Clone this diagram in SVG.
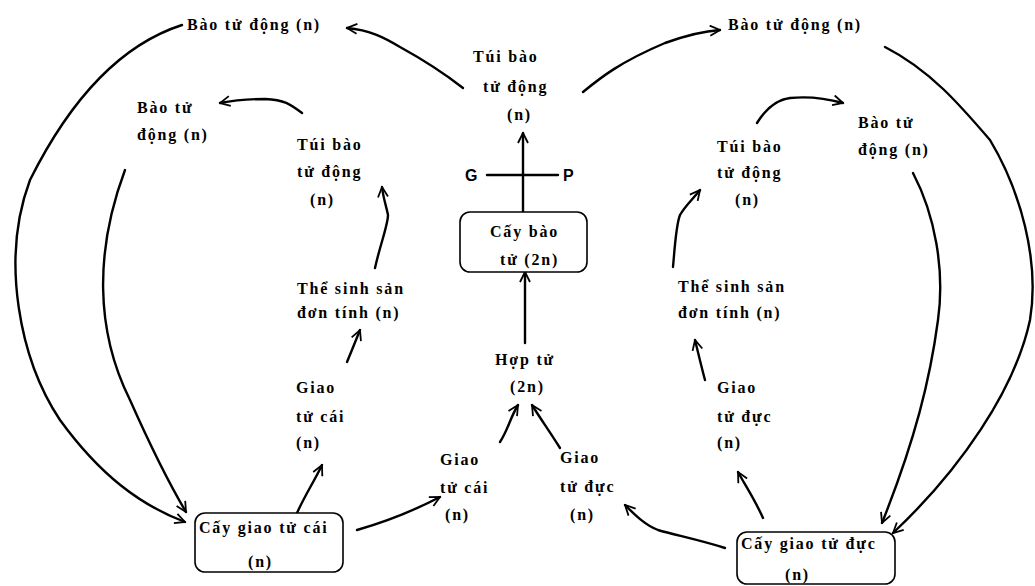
<svg xmlns="http://www.w3.org/2000/svg" width="1035" height="586" viewBox="0 0 1035 586">
<defs>
<marker id="ah" viewBox="0 0 12 12" refX="11" refY="6" markerWidth="12" markerHeight="12" markerUnits="userSpaceOnUse" orient="auto">
<path d="M1,1 L11,6 L1,11" fill="none" stroke="#000" stroke-width="1.8"/>
</marker>
<style>
.t{font-family:"Liberation Serif","DejaVu Serif",serif;font-weight:bold;font-size:16px;letter-spacing:1.8px;fill:#000}
.s{font-family:"Liberation Sans","DejaVu Sans",sans-serif;font-weight:bold;font-size:16px;fill:#000}
.c{fill:none;stroke:#000;stroke-width:2.4;stroke-linecap:round;marker-end:url(#ah)}
.p{fill:none;stroke:#000;stroke-width:2.4;stroke-linecap:round}
.b{fill:#fff;stroke:#000;stroke-width:1.6}
</style>
</defs>
<rect width="1035" height="586" fill="#fff"/>
<g id="connectors">
<path class="c" d="M463,88 C440,70 420,58 400,47 C385,38 370,30 347,28"/>
<path class="c" d="M302,113 C290,104 285,100 265,99 C250,99 235,100 220,103"/>
<path class="c" d="M182,25 C120,45 70,100 30,180 C0,260 20,360 60,420 C100,475 140,505 185,522"/>
<path class="c" d="M125,170 C95,250 95,330 130,400 C150,445 170,485 186,512"/>
<path class="c" d="M375,268 C380,245 388,225 388,215 C386,205 383,197 382,187"/>
<path class="c" d="M347,362 C352,350 356,340 360,330"/>
<path class="c" d="M297,513 C305,495 315,480 322,465"/>
<path class="c" d="M357,530 C385,522 415,510 440,497"/>
<path class="c" d="M500,442 C508,430 510,418 518,405"/>
<path class="c" d="M560,448 C550,432 540,418 532,405"/>
<path class="c" d="M525,343 L525,272"/>
<path class="c" d="M523,213 L523,133"/>
<path class="p" d="M487,175 L558,175"/>
<path class="c" d="M583,92 C600,78 620,62 665,43 C690,34 705,31 720,30"/>
<path class="c" d="M885,47 C930,70 960,105 990,140 C1020,190 1040,260 1030,320 C1015,390 960,470 893,533"/>
<path class="c" d="M757,123 C765,110 775,100 790,98 C810,96 825,98 843,103"/>
<path class="c" d="M913,173 C935,215 945,270 938,320 C930,380 915,440 882,523"/>
<path class="c" d="M673,267 C675,245 676,225 680,215 C685,206 692,200 700,190"/>
<path class="c" d="M705,380 C701,365 698,352 695,340"/>
<path class="c" d="M763,518 C755,500 745,485 738,472"/>
<path class="c" d="M725,548 C700,540 675,535 658,530 C645,525 635,515 625,505"/>
</g>
<g id="n_bao_tl"><text class="t" x="187" y="30">Bào tử động (n)</text></g>
<g id="n_tui_c"><text class="t" x="473" y="62">Túi bào</text><text class="t" x="483" y="92">tử động</text><text class="t" x="507" y="120">(n)</text></g>
<g id="n_bao_l2"><text class="t" x="137" y="113">Bào tử</text><text class="t" x="137" y="140">động (n)</text></g>
<g id="n_tui_l"><text class="t" x="297" y="150">Túi bào</text><text class="t" x="297" y="177">tử động</text><text class="t" x="310" y="205">(n)</text></g>
<g id="n_the_l"><text class="t" x="297" y="294">Thể sinh sản</text><text class="t" x="297" y="318">đơn tính (n)</text></g>
<g id="n_giao_l"><text class="t" x="296" y="393">Giao</text><text class="t" x="296" y="422">tử cái</text><text class="t" x="296" y="448">(n)</text></g>
<g id="n_cay_cai"><rect class="b" x="195" y="513" width="148" height="59" rx="10"/><text class="t" x="199" y="533">Cấy giao tử cái</text><text class="t" x="248" y="567">(n)</text></g>
<g id="n_giao_cai_m"><text class="t" x="440" y="465">Giao</text><text class="t" x="440" y="493">tử cái</text><text class="t" x="445" y="520">(n)</text></g>
<g id="n_giao_duc_m"><text class="t" x="560" y="463">Giao</text><text class="t" x="560" y="492">tử đực</text><text class="t" x="570" y="520">(n)</text></g>
<g id="n_hop_tu"><text class="t" x="495" y="365">Hợp tử</text><text class="t" x="510" y="392">(2n)</text></g>
<g id="n_cay_bao"><rect class="b" x="460" y="212" width="127" height="60" rx="10"/><text class="t" x="490" y="237">Cấy bào</text><text class="t" x="500" y="265">tử (2n)</text></g>
<g id="n_g"><text class="s" x="465" y="181">G</text></g>
<g id="n_p"><text class="s" x="563" y="181">P</text></g>
<g id="n_bao_tr"><text class="t" x="728" y="30">Bào tử động (n)</text></g>
<g id="n_bao_r2"><text class="t" x="858" y="128">Bào tử</text><text class="t" x="858" y="155">động (n)</text></g>
<g id="n_tui_r"><text class="t" x="717" y="152">Túi bào</text><text class="t" x="717" y="178">tử động</text><text class="t" x="735" y="205">(n)</text></g>
<g id="n_the_r"><text class="t" x="678" y="292">Thể sinh sản</text><text class="t" x="678" y="318">đơn tính (n)</text></g>
<g id="n_giao_r"><text class="t" x="717" y="393">Giao</text><text class="t" x="717" y="422">tử đực</text><text class="t" x="717" y="448">(n)</text></g>
<g id="n_cay_duc"><rect class="b" x="737" y="532" width="158" height="52" rx="10"/><text class="t" x="741" y="549">Cấy giao tử đực</text><text class="t" x="785" y="580">(n)</text></g>
</svg>
